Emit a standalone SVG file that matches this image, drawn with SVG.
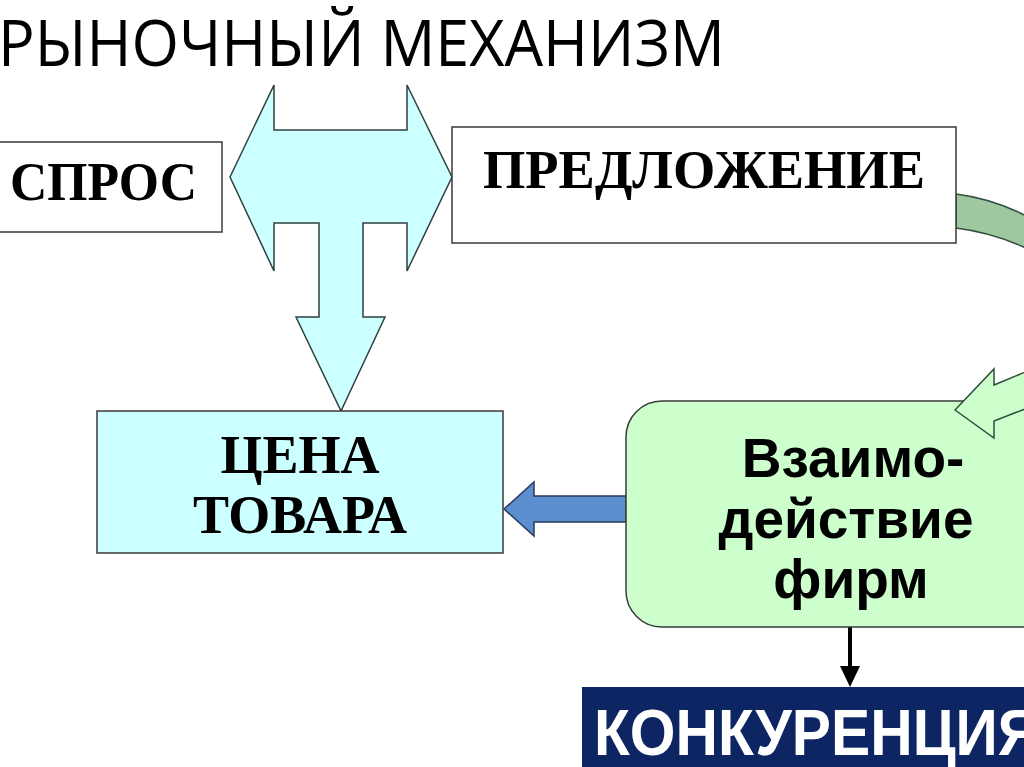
<svg xmlns="http://www.w3.org/2000/svg" width="1024" height="767" viewBox="0 0 1024 767">
<style>
.box{stroke:#3a3a3a;stroke-width:1.5}
.serif{font-family:"Liberation Serif","Times New Roman",serif;font-weight:bold;fill:#000}
.sans{font-family:"Liberation Sans",Arial,sans-serif;font-weight:bold}
</style>
<rect width="1024" height="767" fill="#fff"/>
<text id="title" x="-2" y="66" font-family="'Open Sans',sans-serif" font-size="64" fill="#000" textLength="727" lengthAdjust="spacingAndGlyphs">РЫНОЧНЫЙ МЕХАНИЗМ</text>
<g id="connectors">
  <polygon points="230,177 274,85 274,130 407,130 407,85 452,177 407,271 407,223 363,223 363,317 385,317 341,411 296,317 319,317 319,223 274,223 274,271" fill="#ccffff" stroke="#2f3f3f" stroke-width="1.5" stroke-linejoin="miter"/>
  <path d="M956,194 Q995,199 1030,218 L1030,250 Q995,233 956,228 Z" fill="#a0c8a0" stroke="#2f4f3f" stroke-width="1.5"/>
  <polygon points="504,509 534,482 534,496 626,496 626,522 534,522 534,536" fill="#5b8fd0" stroke="#2a3a5a" stroke-width="1.5"/>
  <line x1="850" y1="627" x2="850" y2="668" stroke="#000" stroke-width="4"/>
  <polygon points="840,666 860,666 850,687" fill="#000"/>
</g>
<g id="spros">
  <rect class="box" x="-2" y="142" width="224" height="90" fill="#fff"/>
  <text class="serif" x="10" y="200" font-size="55" textLength="187" lengthAdjust="spacingAndGlyphs">СПРОС</text>
</g>
<g id="predlozhenie">
  <rect class="box" x="452" y="127" width="504" height="116" fill="#fff"/>
  <text class="serif" x="483" y="188" font-size="54" textLength="442" lengthAdjust="spacingAndGlyphs">ПРЕДЛОЖЕНИЕ</text>
</g>
<g id="tsena">
  <rect class="box" x="97" y="411" width="406" height="142" fill="#ccffff"/>
  <text class="serif" x="300" y="473" font-size="54" text-anchor="middle">ЦЕНА</text>
  <text class="serif" x="300" y="533" font-size="54" text-anchor="middle">ТОВАРА</text>
</g>
<g id="vzaimodeistvie">
  <rect class="box" x="626" y="401" width="440" height="226" rx="36" ry="36" fill="#ccffcc"/>
  <text class="sans" x="853" y="477" font-size="55" text-anchor="middle" fill="#000">Взаимо-</text>
  <text class="sans" x="846" y="538" font-size="55" text-anchor="middle" fill="#000">действие</text>
  <text class="sans" x="851" y="598" font-size="55" text-anchor="middle" fill="#000">фирм</text>
</g>
<polygon id="supply-arrow" points="955,410 994,369 994,385 1030,370 1030,407 994,421 994,438" fill="#ccffcc" stroke="#2f4f3f" stroke-width="1.5"/>
<g id="konkurentsiya">
  <rect x="582" y="687" width="450" height="90" fill="#0d2562"/>
  <text class="sans" x="594" y="755" font-size="64" fill="#fff" textLength="446" lengthAdjust="spacingAndGlyphs">КОНКУРЕНЦИЯ</text>
</g>
</svg>
